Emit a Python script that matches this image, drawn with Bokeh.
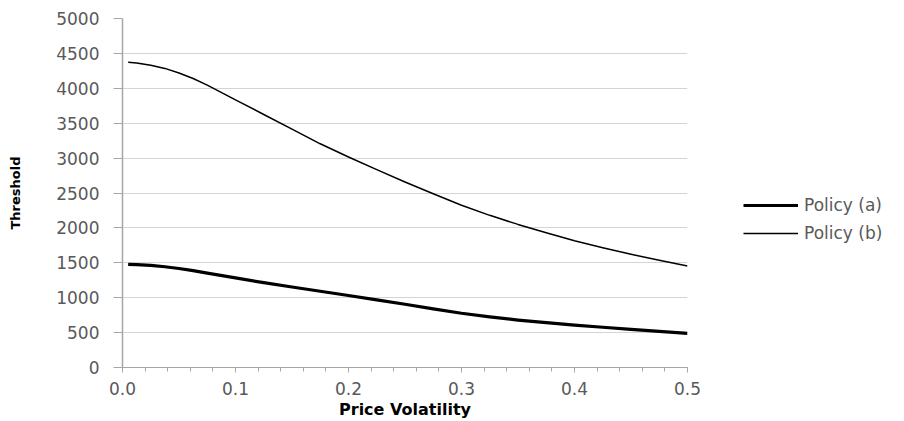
from bokeh.plotting import figure
from bokeh.models import (Range1d, FixedTicker, NumeralTickFormatter, Legend, LegendItem,
                          ColumnDataSource)
from bokeh.embed import file_html
from bokeh.resources import INLINE

# ---- data ----
volatility = [0.005, 0.0125, 0.025, 0.0375, 0.05, 0.0625, 0.075, 0.1, 0.125, 0.15, 0.175,
              0.2, 0.225, 0.25, 0.275, 0.3, 0.325, 0.35, 0.375, 0.4, 0.425, 0.45, 0.475, 0.5]
policy_a = [1478, 1474, 1462, 1443, 1418, 1388, 1353, 1284, 1215, 1153, 1092,
            1032, 970, 906, 840, 777, 725, 680, 642, 608, 577, 546, 517, 490]
policy_b = [4372, 4362, 4330, 4285, 4220, 4140, 4045, 3835, 3625, 3415, 3205,
            3015, 2835, 2658, 2490, 2325, 2180, 2050, 1930, 1815, 1715, 1622, 1535, 1455]
x_ticks = [0.0, 0.1, 0.2, 0.3, 0.4, 0.5]
y_ticks = [0, 500, 1000, 1500, 2000, 2500, 3000, 3500, 4000, 4500, 5000]
series_names = ["Policy (a)", "Policy (b)"]
x_title = "Price Volatility"
y_title = "Threshold"

FONT = "DejaVu Sans"
TICK_COLOR = "#595959"
AXIS_COLOR = "#A6A6A6"
GRID_COLOR = "#D4D4D4"

p = figure(frame_width=565, frame_height=349, output_backend="svg", toolbar_location=None,
           x_range=Range1d(0, 0.5), y_range=Range1d(0, 5000),
           min_border_left=122, min_border_right=0, min_border_top=18, min_border_bottom=52)
p.outline_line_color = None
p.background_fill_color = "white"
p.border_fill_color = "white"

src = ColumnDataSource(dict(x=volatility, a=policy_a, b=policy_b))
ra = p.line("x", "a", source=src, line_color="black", line_width=3.2, line_join="round")
rb = p.line("x", "b", source=src, line_color="black", line_width=1.5, line_join="round")

# grid
p.xgrid.grid_line_color = None
p.ygrid.grid_line_color = GRID_COLOR
p.ygrid.grid_line_width = 1.2

# x axis
xa = p.xaxis[0]
xa.ticker = FixedTicker(ticks=x_ticks, minor_ticks=[i * 0.02 for i in range(26)])
xa.formatter = NumeralTickFormatter(format="0.0")
xa.axis_line_color = AXIS_COLOR
xa.axis_line_width = 1.2
xa.major_tick_line_color = AXIS_COLOR
xa.minor_tick_line_color = AXIS_COLOR
xa.major_tick_out = 5
xa.major_tick_in = 0
xa.minor_tick_out = 4
xa.minor_tick_in = 0
xa.major_label_standoff = 9
xa.major_label_text_font = FONT
xa.major_label_text_font_size = "17px"
xa.major_label_text_color = TICK_COLOR
xa.axis_label = x_title
xa.axis_label_text_font = FONT
xa.axis_label_text_font_style = "bold"
xa.axis_label_text_font_size = "16px"
xa.axis_label_text_color = "black"
xa.axis_label_standoff = 2

# y axis
ya = p.yaxis[0]
ya.ticker = FixedTicker(ticks=y_ticks, minor_ticks=[])
ya.formatter = NumeralTickFormatter(format="0")
ya.axis_line_color = AXIS_COLOR
ya.axis_line_width = 1.5
ya.major_tick_line_color = AXIS_COLOR
ya.major_tick_out = 9
ya.major_tick_in = 0
ya.minor_tick_line_color = None
ya.major_label_standoff = 14
ya.major_label_text_font = FONT
ya.major_label_text_font_size = "17px"
ya.major_label_text_color = TICK_COLOR
ya.axis_label = y_title
ya.axis_label_text_font = FONT
ya.axis_label_text_font_style = "bold"
ya.axis_label_text_font_size = "13px"
ya.axis_label_text_color = "black"
ya.axis_label_standoff = 30

legend = Legend(items=[LegendItem(label=series_names[0], renderers=[ra]),
                       LegendItem(label=series_names[1], renderers=[rb])],
                location=(56, 124))
legend.glyph_width = 55
legend.glyph_height = 20
legend.label_height = 20
legend.spacing = 8
legend.padding = 0
legend.margin = 0
legend.label_standoff = 6
legend.border_line_color = None
legend.background_fill_alpha = 0
legend.label_text_font = FONT
legend.label_text_font_size = "17px"
legend.label_text_color = TICK_COLOR
p.add_layout(legend, "right")

open("out.html", "w").write(file_html(p, INLINE))
